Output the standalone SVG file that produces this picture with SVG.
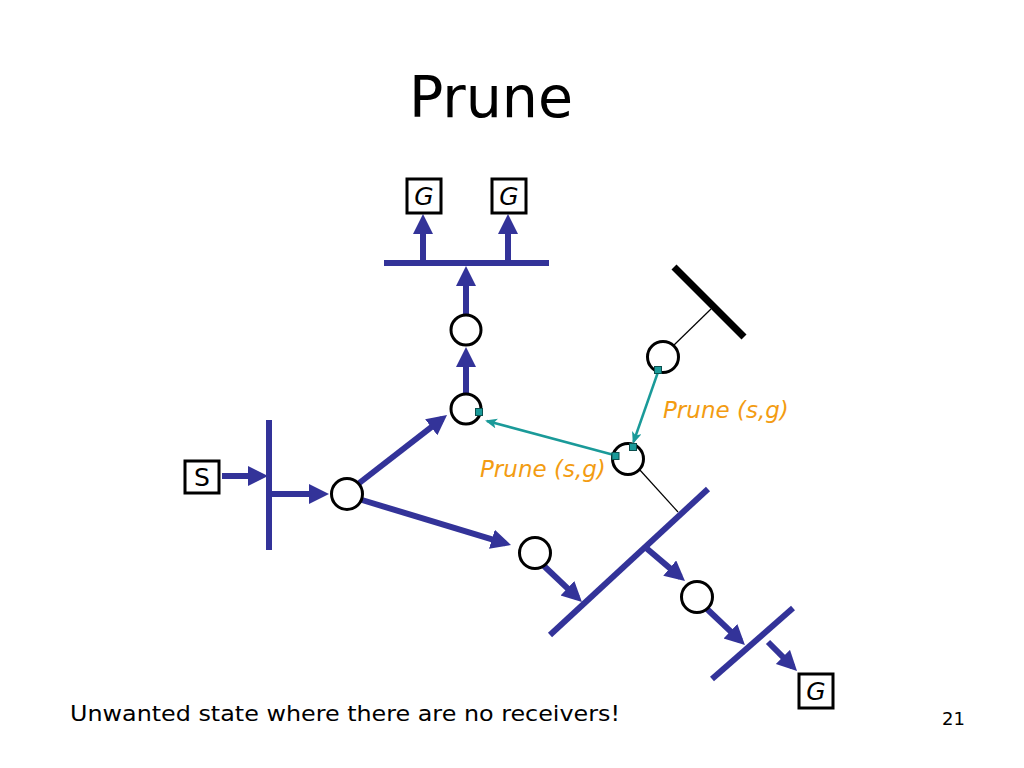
<svg xmlns="http://www.w3.org/2000/svg" width="1024" height="768" viewBox="0 0 1024 768">
<defs>
<marker id="ab" markerUnits="userSpaceOnUse" markerWidth="22" markerHeight="22" refX="14" refY="10" orient="auto">
<path d="M0,0 L20,10 L0,20 z" fill="#333399"/>
</marker>
<marker id="at" markerUnits="userSpaceOnUse" markerWidth="14" markerHeight="12" refX="10" refY="5" orient="auto">
<path d="M0,0 L12,5 L0,10 L3,5 z" fill="#1a9a99"/>
</marker>
</defs>
<style>
.t{font-family:"DejaVu Sans","Liberation Sans",sans-serif;fill:#000}
.bus{stroke:#333399;stroke-width:6;fill:none}
.arr{stroke:#333399;stroke-width:6;fill:none;marker-end:url(#ab)}
.tl{stroke:#1a9a99;stroke-width:2.5;fill:none;marker-end:url(#at)}
.thin{stroke:#000;stroke-width:1.2;fill:none}
.rt{fill:#fff;stroke:#000;stroke-width:3}
.nd{fill:#fff;stroke:#000;stroke-width:3}
.sq{fill:#1a9a99;stroke:#0b4f4d;stroke-width:1}
.or{font-family:"DejaVu Sans","Liberation Sans",sans-serif;font-style:italic;font-size:23px;fill:#f39c12}
.lb{font-family:"DejaVu Sans","Liberation Sans",sans-serif;font-size:25px;fill:#000;text-anchor:middle}
</style>
<rect width="1024" height="768" fill="#fff"/>
<text class="t" x="491" y="117" font-size="57" text-anchor="middle">Prune</text>

<g id="buses">
<line class="bus" x1="384" y1="263" x2="549" y2="263"/>
<line class="bus" x1="269" y1="420" x2="269" y2="550"/>
<line class="bus" x1="550" y1="635" x2="708" y2="489"/>
<line class="bus" x1="712" y1="679" x2="793" y2="608"/>
<line stroke="#000" stroke-width="7" x1="674" y1="267" x2="744" y2="337"/>
</g>

<g id="connectors">
<line class="arr" x1="222" y1="476" x2="262" y2="476"/>
<line class="arr" x1="272" y1="494" x2="323" y2="494"/>
<line class="arr" x1="423" y1="262" x2="423" y2="220"/>
<line class="arr" x1="508" y1="262" x2="508" y2="220"/>
<line class="arr" x1="466" y1="314" x2="466" y2="272"/>
<line class="arr" x1="466" y1="393" x2="466" y2="353"/>
<line class="arr" x1="358" y1="484" x2="442.3" y2="418.7"/>
<line class="arr" x1="362" y1="500" x2="505.3" y2="543.3"/>
<line class="arr" x1="544" y1="566" x2="577.6" y2="597.9"/>
<line class="arr" x1="645" y1="547" x2="680.4" y2="577.1"/>
<line class="arr" x1="707" y1="609" x2="740.6" y2="640.9"/>
<line class="arr" x1="768" y1="642" x2="792.8" y2="666.8"/>
<line class="thin" x1="673" y1="346" x2="711" y2="309"/>
<line class="thin" x1="639" y1="469" x2="678" y2="512"/>
<line class="tl" x1="658" y1="372" x2="633.5" y2="442"/>
<line class="tl" x1="614" y1="455" x2="487" y2="421"/>
</g>

<g id="G1"><rect class="rt" x="407" y="179" width="34" height="34"/><text class="lb" x="424" y="205" font-style="italic">G</text></g>
<g id="G2"><rect class="rt" x="492" y="179" width="34" height="34"/><text class="lb" x="509" y="205" font-style="italic">G</text></g>
<g id="G3"><rect class="rt" x="799" y="674" width="34" height="34"/><text class="lb" x="816" y="700" font-style="italic">G</text></g>
<g id="S"><rect class="rt" x="185" y="461" width="34" height="32"/><text class="lb" x="202" y="486">S</text></g>

<g id="r1"><circle class="nd" cx="466" cy="330" r="15"/></g>
<g id="r2"><circle class="nd" cx="466" cy="409" r="15"/><rect class="sq" x="475.5" y="408.5" width="7" height="7"/></g>
<g id="r3"><circle class="nd" cx="347" cy="494" r="15.5"/></g>
<g id="r4"><circle class="nd" cx="535" cy="553" r="15.5"/></g>
<g id="r5"><circle class="nd" cx="663" cy="357" r="15.5"/><rect class="sq" x="654.5" y="366.5" width="7" height="7"/></g>
<g id="r6"><circle class="nd" cx="628" cy="459" r="15.5"/><rect class="sq" x="629.5" y="443.5" width="7" height="7"/><rect class="sq" x="612" y="452.5" width="7" height="7"/></g>
<g id="r7"><circle class="nd" cx="697" cy="597" r="15.5"/></g>

<text class="or" x="663" y="418">Prune (s,g)</text>
<text class="or" x="480" y="477">Prune (s,g)</text>

<text class="t" x="70" y="721" font-size="22" textLength="550" lengthAdjust="spacingAndGlyphs">Unwanted state where there are no receivers!</text>
<text class="t" x="942" y="725" font-size="18">21</text>
</svg>
